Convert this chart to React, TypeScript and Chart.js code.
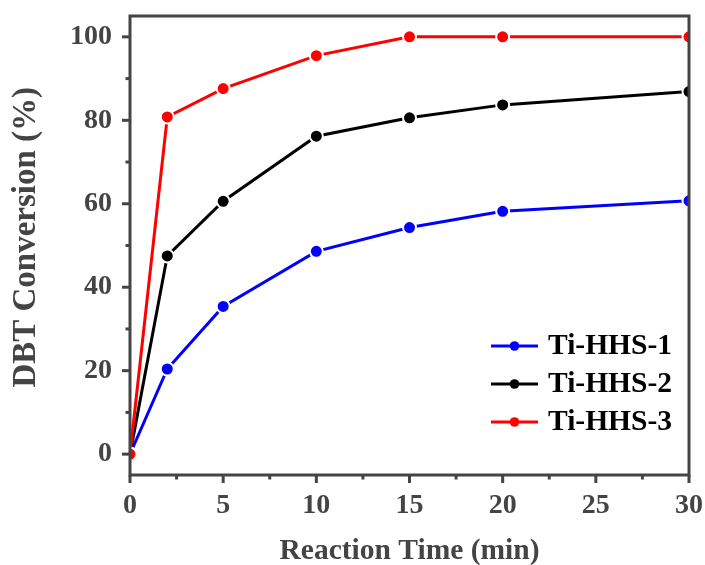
import React, { useEffect, useRef } from 'react';
import { Chart, registerables } from 'chart.js';

Chart.register(...registerables);

const timeMin = [0, 2, 5, 10, 15, 20, 30];
const hhs1 = [0, 20.4, 35.4, 48.6, 54.3, 58.2, 60.7];
const hhs2 = [0, 47.5, 60.6, 76.2, 80.6, 83.7, 86.9];
const hhs3 = [0, 80.8, 87.6, 95.5, 100, 100, 100];
const seriesNames = ['Ti-HHS-1', 'Ti-HHS-2', 'Ti-HHS-3'];
const seriesColors = ['#0000ff', '#000000', '#ff0000'];
const xMajor = [0, 5, 10, 15, 20, 25, 30];
const xMinor = [2.5, 7.5, 12.5, 17.5, 22.5, 27.5];
const yMajor = [0, 20, 40, 60, 80, 100];
const yMinor = [10, 30, 50, 70, 90];

const FONT = "'Times New Roman', 'Liberation Serif', serif";
const AXIS = '#444444';

const framePlugin = {
  id: 'frameTicks',
  afterDatasetsDraw(chart: any) {
    const { ctx, chartArea: a, scales } = chart;
    ctx.save();
    ctx.strokeStyle = AXIS;
    ctx.lineWidth = 3;
    ctx.lineCap = 'butt';
    ctx.strokeRect(a.left, a.top, a.right - a.left, a.bottom - a.top);
    const seg = (x1: number, y1: number, x2: number, y2: number) => {
      ctx.beginPath();
      ctx.moveTo(x1, y1);
      ctx.lineTo(x2, y2);
      ctx.stroke();
    };
    xMajor.forEach((v) => {
      const x = scales.x.getPixelForValue(v);
      seg(x, a.bottom, x, a.bottom + 8);
    });
    xMinor.forEach((v) => {
      const x = scales.x.getPixelForValue(v);
      seg(x, a.bottom, x, a.bottom + 4.5);
    });
    yMajor.forEach((v) => {
      const y = scales.y.getPixelForValue(v);
      seg(a.left, y, a.left - 8, y);
    });
    yMinor.forEach((v) => {
      const y = scales.y.getPixelForValue(v);
      seg(a.left, y, a.left - 4.5, y);
    });
    ctx.restore();
  },
};

const legendPlugin = {
  id: 'insideLegend',
  afterDraw(chart: any) {
    const { ctx, chartArea: a } = chart;
    ctx.save();
    const rowYs = [a.bottom - 129, a.bottom - 91, a.bottom - 53];
    const lineX1 = a.right - 198;
    const lineX2 = a.right - 151;
    const textX = a.right - 141;
    seriesNames.forEach((name, i) => {
      const y = rowYs[i];
      ctx.strokeStyle = seriesColors[i];
      ctx.lineWidth = 3;
      ctx.beginPath();
      ctx.moveTo(lineX1, y);
      ctx.lineTo(lineX2, y);
      ctx.stroke();
      ctx.fillStyle = seriesColors[i];
      ctx.beginPath();
      ctx.arc((lineX1 + lineX2) / 2, y, 4.8, 0, Math.PI * 2);
      ctx.fill();
      ctx.fillStyle = '#000';
      ctx.font = `bold 29.5px ${FONT}`;
      ctx.textAlign = 'left';
      ctx.textBaseline = 'middle';
      ctx.fillText(name, textX, y);
    });
    ctx.restore();
  },
};

export default function App() {
  const ref = useRef<HTMLCanvasElement | null>(null);
  useEffect(() => {
    if (!ref.current) return;
    const seriesData = [hhs1, hhs2, hhs3];
    const chart = new Chart(ref.current, {
      type: 'line',
      data: {
        datasets: seriesData.map((arr, i) => ({
          label: seriesNames[i],
          data: timeMin.map((t, j) => ({ x: t, y: arr[j] })),
          borderColor: seriesColors[i],
          backgroundColor: seriesColors[i],
          pointBackgroundColor: seriesColors[i],
          pointBorderColor: '#ffffff',
          pointBorderWidth: 2,
          pointRadius: 6.5,
          borderWidth: 3,
          tension: 0,
          clip: 0,
          order: 3 - i,
        })),
      },
      options: {
        responsive: false,
        animation: false,
        layout: { padding: { top: 16, right: 16, left: 0, bottom: 0 } },
        plugins: { legend: { display: false }, tooltip: { enabled: false } },
        scales: {
          x: {
            type: 'linear',
            min: 0,
            max: 30,
            afterBuildTicks: (s: any) => {
              s.ticks = xMajor.map((v) => ({ value: v }));
            },
            afterFit: (s: any) => {
              s.height = 90;
              s.paddingLeft = 0;
              s.paddingRight = 0;
            },
            grid: { display: false, drawTicks: false },
            border: { display: false },
            ticks: {
              font: { family: FONT, size: 28, weight: 'bold' },
              color: AXIS,
              padding: 14,
              maxRotation: 0,
              autoSkip: false,
            },
            title: {
              display: true,
              text: 'Reaction Time (min)',
              font: { family: FONT, size: 29.5, weight: 'bold', lineHeight: 1 },
              color: AXIS,
              padding: { top: 0, bottom: -1 },
            },
          },
          y: {
            type: 'linear',
            min: -5,
            max: 105,
            afterBuildTicks: (s: any) => {
              s.ticks = yMajor.map((v) => ({ value: v }));
            },
            afterFit: (s: any) => {
              s.width = 130;
              s.paddingTop = 0;
              s.paddingBottom = 0;
            },
            grid: { display: false, drawTicks: false },
            border: { display: false },
            ticks: {
              font: { family: FONT, size: 28, weight: 'bold' },
              color: AXIS,
              padding: 18,
              autoSkip: false,
            },
            title: {
              display: true,
              text: '  DBT Conversion (%)',
              font: { family: FONT, size: 33, weight: 'bold', lineHeight: 1 },
              color: AXIS,
              padding: { top: 10, bottom: 0 },
            },
          },
        },
      },
      plugins: [framePlugin, legendPlugin],
    } as any);
    return () => chart.destroy();
  }, []);
  return (
    <div style={{ position: 'absolute', left: 0, top: 0, width: 705, height: 565 }}>
      <canvas ref={ref} width={705} height={565} style={{ display: 'block' }} />
    </div>
  );
}
